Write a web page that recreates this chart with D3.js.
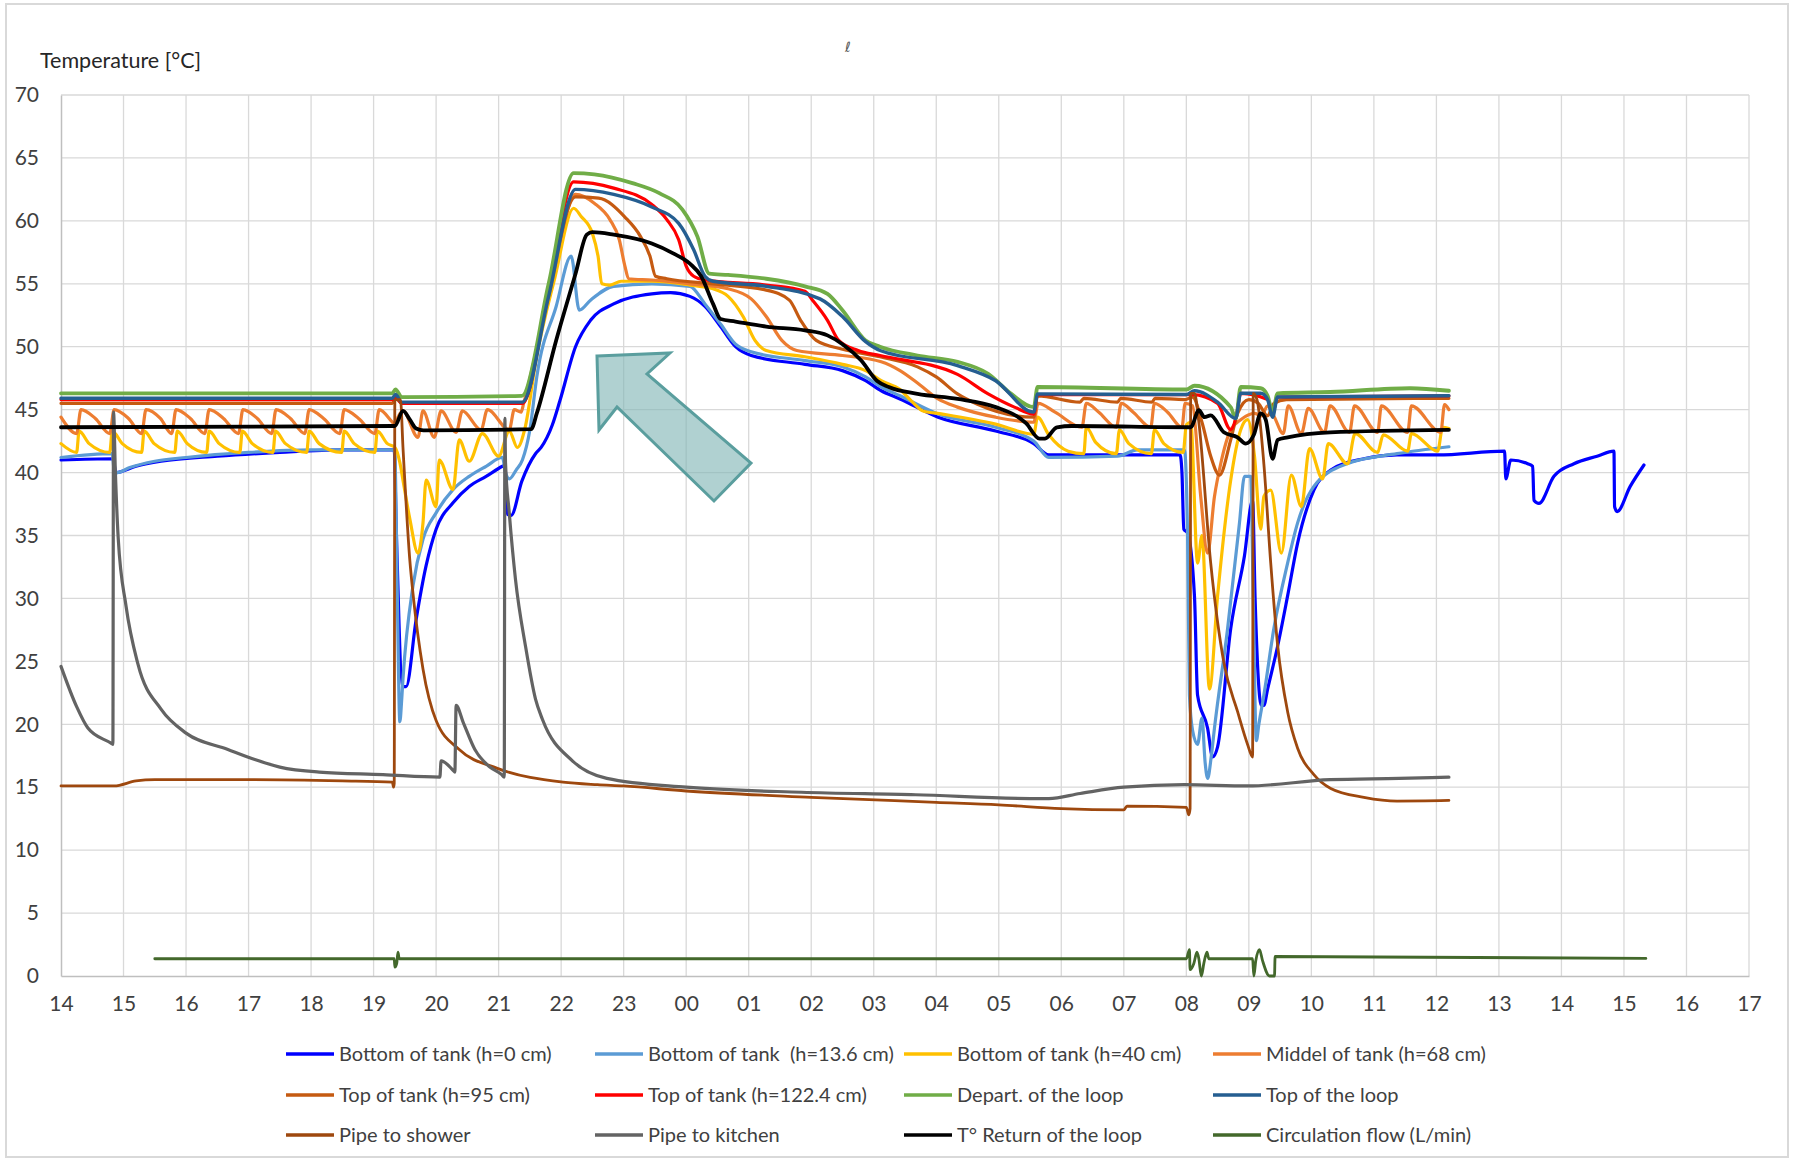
<!DOCTYPE html>
<html><head><meta charset="utf-8">
<script src="https://cdn.jsdelivr.net/npm/d3@7"></script>
<style>
html,body{margin:0;padding:0;background:#fff;}
svg{display:block;font-family:Lato,"Open Sans",sans-serif;}
</style></head>
<body>
<svg id="chart" width="1794" height="1159"></svg>
<script>
// ---------- DATA (t = hours since 14:00 of day 1) ----------
const hourLabels = ["14","15","16","17","18","19","20","21","22","23","00","01","02","03","04","05","06","07","08","09","10","11","12","13","14","15","16","17"];
const yTicks = [0,5,10,15,20,25,30,35,40,45,50,55,60,65,70];
const seriesNames = ["Bottom of tank (h=0 cm)","Bottom of tank  (h=13.6 cm)","Bottom of tank (h=40 cm)","Middel of tank (h=68 cm)","Top of tank (h=95 cm)","Top of tank (h=122.4 cm)","Depart. of the loop","Top of the loop","Pipe to shower","Pipe to kitchen","T° Return of the loop","Circulation flow (L/min)"];

const bottom0 = [[0,41.0],[0.83,41.1],[0.88,40.0],[1.2,40.5],[1.6,40.9],[2.5,41.3],[3.5,41.6],[4.5,41.8],[5.33,41.8],[5.36,36],[5.47,23.0],[5.52,23.0],[5.68,28.3],[5.84,32.6],[6.0,35.5],[6.27,37.6],[6.53,38.9],[6.8,39.7],[7.06,40.5],[7.1,40.6],[7.14,36.7],[7.2,36.6],[7.37,39.3],[7.59,41.5],[7.68,42.0],[7.86,43.8],[7.98,45.7],[8.23,50],[8.47,52.1],[8.84,53.4],[9.45,54.2],[9.75,54.3],[10.06,54.0],[10.3,53.2],[10.55,51.6],[10.79,50.0],[11.04,49.3],[11.9,48.6],[12.5,48.1],[12.87,47.3],[13.12,46.5],[13.42,45.85],[14.03,44.4],[14.95,43.3],[15.56,42.3],[15.8,41.4],[16.5,41.4],[17.9,41.4],[17.93,40],[17.96,35.5],[18.02,35.2],[18.13,30.2],[18.18,22.3],[18.34,19.7],[18.42,17.4],[18.5,18.2],[18.71,27.6],[18.93,33.4],[19.06,37.8],[19.1,30],[19.2,21.5],[19.24,21.5],[19.3,22.8],[19.46,26.2],[19.62,30.2],[19.78,34.4],[20.04,38.6],[20.31,40.2],[20.84,41.1],[21.37,41.4],[22.02,41.4],[23.09,41.7],[23.11,39.5],[23.19,41.0],[23.46,40.7],[23.54,40.5],[23.56,37.8],[23.64,37.55],[23.88,39.7],[24.2,40.7],[24.57,41.3],[24.84,41.7],[24.85,37.3],[24.89,36.9],[25.1,38.9],[25.32,40.6]];

const bottom136 = [[0,41.2],[0.82,41.5],[0.85,40.2],[0.9,40.0],[1.1,40.4],[1.5,40.9],[2.0,41.2],[3.0,41.6],[4.0,41.8],[5.3,41.8],[5.34,41.6],[5.38,30],[5.42,20.2],[5.45,22],[5.47,23.6],[5.63,31],[5.79,34.7],[6.0,36.8],[6.27,38.65],[6.53,39.7],[6.8,40.5],[7.06,41.2],[7.11,40.0],[7.17,39.5],[7.28,40.2],[7.38,41.0],[7.5,43.4],[7.61,47.6],[7.92,53.2],[8.16,57.2],[8.29,52.9],[8.47,53.7],[8.84,54.8],[9.45,55.0],[10.06,54.8],[10.3,53.4],[10.55,51.8],[10.79,50.2],[11.04,49.6],[11.9,48.9],[12.5,48.4],[12.87,47.6],[13.12,46.8],[13.42,46.1],[14.03,44.65],[14.95,43.6],[15.56,42.5],[15.8,41.2],[16.9,41.3],[17.22,41.8],[17.97,41.8],[18.02,35],[18.05,22.3],[18.1,19.5],[18.18,18.4],[18.25,20.5],[18.3,17],[18.34,15.7],[18.4,17.5],[18.45,19.7],[18.66,27.6],[18.85,36],[18.93,39.7],[19.03,39.7],[19.07,30],[19.12,18.7],[19.16,20],[19.24,22.3],[19.4,27.6],[19.62,32.8],[19.78,36.0],[20.04,38.9],[20.57,40.7],[21.37,41.5],[22.2,42.05]];

const bottom40 = [[0,42.3],[0.25,41.6],[0.29,43.3],[0.45,42.3],[0.78,41.6],[0.82,43.3],[0.98,42.3],[1.29,41.6],[1.33,43.3],[1.49,42.3],[1.82,41.6],[1.86,43.3],[2.02,42.3],[2.33,41.6],[2.37,43.3],[2.53,42.3],[2.86,41.6],[2.9,43.3],[3.06,42.3],[3.39,41.6],[3.43,43.3],[3.59,42.3],[3.93,41.6],[3.97,43.3],[4.13,42.3],[4.49,41.6],[4.53,43.3],[4.69,42.3],[5.02,41.6],[5.06,43.3],[5.22,42.3],[5.34,42.0],[5.42,40.8],[5.47,39.4],[5.58,36.3],[5.71,33.6],[5.79,36],[5.84,39.4],[6.0,37.3],[6.05,41.0],[6.27,38.65],[6.37,42.6],[6.53,40.9],[6.74,43.1],[7.0,41.3],[7.17,43.3],[7.3,42.0],[7.42,43.5],[7.6,49.0],[7.9,55.5],[8.2,61.0],[8.32,60.35],[8.5,59.0],[8.59,57.2],[8.65,55.0],[8.78,54.9],[8.96,55.2],[9.45,55.2],[10.06,54.9],[10.43,54.6],[10.67,54.0],[10.91,52.4],[11.1,50.5],[11.28,49.7],[11.9,49.2],[12.5,48.6],[12.87,48.1],[13.12,47.3],[13.42,46.6],[13.6,45.7],[13.79,44.9],[14.1,44.65],[14.95,43.85],[15.56,43.05],[15.62,44.4],[15.8,43.0],[16.11,41.7],[16.36,41.5],[16.4,43.6],[16.55,42.4],[16.88,41.5],[16.93,43.4],[17.08,42.3],[17.44,41.5],[17.49,43.4],[17.64,42.3],[17.95,41.6],[18.0,43.8],[18.07,44.0],[18.18,32.8],[18.25,35],[18.37,22.8],[18.5,30.2],[18.71,39.4],[18.87,43.4],[18.98,44.2],[19.09,41.3],[19.19,35.5],[19.24,38.1],[19.35,38.6],[19.52,33.6],[19.68,39.8],[19.84,37.3],[19.97,41.9],[20.18,39.5],[20.27,42.3],[20.58,40.7],[20.7,43.1],[21.06,41.6],[21.15,43.0],[21.54,41.7],[21.6,43.1],[22.02,41.7],[22.1,43.6],[22.2,43.5]];

const middle68 = [[0,44.4],[0.25,43.1],[0.32,45.0],[0.55,44.3],[0.78,43.1],[0.85,45.0],[1.08,44.3],[1.29,43.1],[1.36,45.0],[1.59,44.3],[1.77,43.1],[1.84,45.0],[2.07,44.3],[2.3,43.1],[2.37,45.0],[2.6,44.3],[2.84,43.1],[2.91,45.0],[3.14,44.3],[3.37,43.1],[3.44,45.0],[3.67,44.3],[3.9,43.1],[3.97,45.0],[4.2,44.3],[4.46,43.1],[4.53,45.0],[4.76,44.3],[5.02,43.1],[5.09,45.0],[5.3,44.0],[5.34,43.8],[5.4,44.5],[5.47,44.9],[5.71,42.8],[5.79,44.9],[5.97,42.8],[6.08,44.9],[6.32,43.2],[6.42,44.9],[6.72,43.4],[6.82,45.0],[7.17,43.4],[7.25,45.0],[7.36,44.8],[7.4,45.5],[7.8,54],[8.23,62.1],[8.53,61.4],[8.78,60.1],[8.93,58.5],[9.02,56.4],[9.08,55.4],[9.45,55.3],[10.06,55.0],[10.67,54.6],[11.04,53.8],[11.28,52.4],[11.53,50.5],[11.77,49.7],[12.5,49.3],[13.12,48.8],[13.42,48.1],[13.73,47.0],[14.03,45.85],[14.34,45.2],[14.95,44.4],[15.56,44.0],[15.63,45.5],[15.9,44.8],[16.33,43.6],[16.4,45.5],[16.6,44.8],[16.88,43.6],[16.96,45.5],[17.15,44.8],[17.43,43.6],[17.49,45.5],[17.7,44.8],[17.93,43.6],[17.98,45.5],[18.1,45.3],[18.23,38.1],[18.34,33.6],[18.45,38.1],[18.55,40.7],[18.71,43.4],[18.87,44.2],[19.09,44.7],[19.2,44.5],[19.3,45.3],[19.4,44.5],[19.55,43.1],[19.63,45.3],[19.84,43.1],[19.95,45.1],[20.21,43.2],[20.3,45.3],[20.61,43.2],[20.69,45.3],[21.06,43.2],[21.12,45.3],[21.54,43.2],[21.6,45.3],[22.07,43.2],[22.13,45.4],[22.2,45.0]];

const top95 = [[0,45.5],[5.3,45.5],[5.35,45.9],[5.45,45.5],[7.38,45.5],[7.8,54.5],[8.23,61.9],[8.6,61.8],[9.02,60.3],[9.27,58.75],[9.42,57.2],[9.51,55.6],[9.69,55.4],[10.43,55.0],[11.28,54.5],[11.65,53.7],[11.83,52.1],[12.08,50.5],[12.5,49.8],[13.1,49.2],[13.7,48.4],[14.0,47.6],[14.34,46.25],[14.65,45.45],[15.56,44.4],[15.62,46.1],[16.3,45.6],[16.36,45.9],[16.9,45.6],[16.95,45.9],[17.45,45.6],[17.5,45.9],[17.98,45.8],[18.1,46.0],[18.25,44],[18.39,41.3],[18.53,39.8],[18.71,42.6],[18.82,44.7],[19.0,45.8],[19.15,45.5],[19.3,44.5],[19.4,45.5],[19.6,45.8],[22.2,45.9]];

const top122 = [[0,45.8],[5.3,45.8],[5.36,46.0],[5.45,45.5],[7.38,45.5],[7.8,54.5],[8.2,63.1],[8.84,62.6],[9.45,61.3],[9.69,60.1],[9.88,58.5],[10.0,56.4],[10.12,55.6],[10.3,55.3],[11.28,54.9],[11.9,54.4],[12.02,53.7],[12.26,52.1],[12.44,50.5],[12.75,49.7],[13.1,49.3],[14.34,47.8],[14.83,46.25],[15.25,45.2],[15.56,44.65],[15.62,46.2],[18.1,46.2],[18.5,45.5],[18.71,43.4],[18.8,44.5],[18.87,46.3],[19.3,45.8],[19.38,44.7],[19.46,46.0],[22.2,46.1]];

const departLoop = [[0,46.3],[5.3,46.3],[5.35,46.6],[5.45,46.0],[7.37,46.1],[7.8,55],[8.2,63.8],[8.53,63.7],[9.14,63.0],[9.57,62.2],[9.94,60.9],[10.18,58.75],[10.37,55.8],[10.67,55.7],[11.28,55.4],[11.9,54.8],[12.26,54.2],[12.5,52.9],[12.87,50.5],[13.1,50.0],[13.7,49.3],[14.34,48.8],[14.83,47.85],[15.2,46.25],[15.56,45.2],[15.62,46.8],[18.0,46.6],[18.13,46.9],[18.71,45.2],[18.79,44.3],[18.87,46.8],[19.19,46.7],[19.3,46.1],[19.38,44.8],[19.46,46.3],[20.3,46.4],[21.58,46.7],[22.2,46.5]];

const topLoop = [[0,45.9],[5.3,45.9],[5.35,46.2],[5.45,45.6],[7.38,45.6],[7.8,54],[8.23,62.5],[8.84,62.1],[9.45,61.1],[9.88,59.8],[10.12,57.7],[10.3,55.6],[10.43,55.2],[11.28,54.8],[12.14,53.8],[12.5,52.4],[12.87,50.4],[13.1,49.7],[14.34,48.5],[14.95,47.3],[15.56,44.8],[15.62,46.25],[18.0,46.2],[18.13,46.5],[18.5,45.6],[18.79,44.3],[18.87,46.3],[19.19,46.3],[19.3,45.8],[19.38,44.4],[19.46,46.0],[22.2,46.1]];

const pipeShower = [[0,15.1],[0.85,15.1],[1.2,15.5],[1.5,15.6],[3,15.6],[4.5,15.5],[5.3,15.4],[5.32,15.0],[5.33,15.3],[5.34,45.8],[5.43,45.8],[5.47,42],[5.58,33],[5.63,30.4],[5.79,24.4],[6.0,20.3],[6.37,18],[6.98,16.5],[8.03,15.4],[8.58,15.2],[9,15.1],[10,14.7],[12,14.2],[14,13.8],[15,13.6],[16,13.3],[17,13.2],[17.05,13.5],[18.0,13.4],[18.04,12.8],[18.06,13.3],[18.07,46.3],[18.13,46.3],[18.2,44],[18.39,32.8],[18.6,24.9],[18.82,21],[18.98,18.4],[19.06,17.4],[19.07,46.3],[19.13,45.8],[19.24,40.7],[19.35,32.8],[19.46,26.3],[19.62,21],[19.78,18.1],[20.04,16.0],[20.31,14.9],[20.84,14.2],[21.37,13.9],[22.2,13.95]];

const pipeKitchen = [[0,24.6],[0.25,21.4],[0.43,19.7],[0.8,18.5],[0.83,18.4],[0.84,44.8],[0.87,40],[0.915,34.8],[1.04,29.4],[1.23,24.8],[1.6,21.2],[2.0,19.3],[2.67,18.0],[3.1,17.2],[3.5,16.6],[4.13,16.2],[5.15,16.0],[6.06,15.8],[6.08,17.1],[6.28,16.3],[6.3,16.2],[6.32,21.5],[6.43,20.2],[6.62,18.0],[6.86,16.6],[7.05,16.0],[7.09,15.8],[7.1,44.3],[7.11,40.8],[7.17,36.8],[7.27,31.5],[7.43,26.2],[7.59,22],[7.7,20.4],[8.18,17.1],[8.73,15.7],[10,15.0],[11.84,14.6],[13.67,14.4],[15.5,14.1],[15.8,14.1],[16.3,14.5],[17,15.0],[17.97,15.2],[18.98,15.1],[20.3,15.6],[21.4,15.7],[22.2,15.8]];

const returnLoop = [[0,43.6],[5.34,43.7],[5.47,44.9],[5.58,44.2],[5.68,43.5],[5.8,43.35],[7.52,43.45],[7.61,44.7],[7.92,50.5],[8.23,55.8],[8.41,58.9],[8.5,59.1],[8.84,58.9],[9.45,58.2],[9.8,57.4],[10.06,56.6],[10.24,55.6],[10.43,53.4],[10.55,52.2],[10.79,52.0],[11.28,51.6],[11.9,51.3],[12.26,50.9],[12.5,50.2],[12.8,48.9],[13.05,47.3],[13.24,46.8],[13.7,46.25],[14.34,45.85],[14.95,45.2],[15.44,43.9],[15.65,42.7],[15.74,42.7],[15.93,43.6],[16.17,43.7],[18.07,43.6],[18.2,44.95],[18.29,44.4],[18.39,44.55],[18.6,43.2],[18.82,42.8],[18.95,42.3],[19.08,43],[19.19,44.7],[19.27,44.2],[19.38,41.1],[19.46,42.6],[19.62,42.8],[20.3,43.2],[22.2,43.4]];

const circulationFlow = [[1.5,1.37],[5.33,1.37],[5.34,0.7],[5.37,1.0],[5.39,1.9],[5.41,1.37],[18.0,1.37],[18.05,2.1],[18.06,0.5],[18.12,1.0],[18.17,1.9],[18.2,1.37],[18.24,0.0],[18.28,1.0],[18.33,1.9],[18.36,1.37],[19.06,1.37],[19.08,0.0],[19.11,1.2],[19.17,2.1],[19.22,1.2],[19.33,0.0],[19.41,0.0],[19.42,1.55],[25.35,1.4]];

// ---------- STYLE ----------
const seriesData = [bottom0,bottom136,bottom40,middle68,top95,top122,departLoop,topLoop,pipeShower,pipeKitchen,returnLoop,circulationFlow];
const seriesColors = ["#0000ff","#5b9bd5","#ffc000","#ed7d31","#c55a11","#ff0000","#70ad47","#255e91","#9e480e","#636363","#000000","#43682b"];
const seriesWidths = [3.2,3.2,3.2,3.2,3.2,3.2,3.8,3.4,2.8,3.2,3.8,2.8];

const svg = d3.select("#chart");
const W = 1794, H = 1159;
const M = {left:61, right:1749, top:95, bottom:976};

svg.append("rect").attr("x",6).attr("y",4).attr("width",W-12).attr("height",H-6)
  .attr("fill","#fff").attr("stroke","#d9d9d9").attr("stroke-width",2);

const x = d3.scaleLinear().domain([0,27]).range([M.left,M.right]);
const y = d3.scaleLinear().domain([0,70]).range([M.bottom,M.top]);

// grid
const g = svg.append("g");
g.selectAll("line.vg").data(d3.range(1,28)).join("line")
  .attr("x1",d=>x(d)).attr("x2",d=>x(d)).attr("y1",y(70)).attr("y2",y(0))
  .attr("stroke","#d9d9d9").attr("stroke-width",1.3);
g.selectAll("line.hg").data(yTicks.filter(v=>v>0)).join("line")
  .attr("x1",x(0)).attr("x2",x(27)).attr("y1",d=>y(d)).attr("y2",d=>y(d))
  .attr("stroke","#d9d9d9").attr("stroke-width",1.3);

// axes
const xAxis = d3.axisBottom(x).tickValues(d3.range(0,28)).tickFormat(i=>hourLabels[i]).tickSize(0).tickPadding(20);
const gx = svg.append("g").attr("transform",`translate(0,${y(0)})`).call(xAxis);
gx.select(".domain").attr("stroke","#bfbfbf").attr("stroke-width",1.5);
gx.selectAll("text").attr("font-size",21).attr("fill","#404040").attr("font-family","Lato");

const yAxis = d3.axisLeft(y).tickValues(yTicks).tickSize(0).tickPadding(22);
const gy = svg.append("g").attr("transform",`translate(${x(0)},0)`).call(yAxis);
gy.select(".domain").attr("stroke","#bfbfbf").attr("stroke-width",1.5);
gy.selectAll("text").attr("font-size",21).attr("fill","#404040").attr("font-family","Lato");

svg.append("text").attr("x",40).attr("y",68).attr("font-size",21.5).attr("fill","#262626")
  .attr("font-family","Lato").text("Temperature [°C]");
svg.append("text").attr("x",845).attr("y",52).attr("font-size",14).attr("fill","#595959")
  .attr("font-family","DejaVu Sans").attr("font-style","italic").text("ℓ");

// lines
const line = d3.line().x(d=>x(d[0])).y(d=>y(d[1])).curve(d3.curveMonotoneX);
const lg = svg.append("g").attr("stroke-linejoin","round").attr("stroke-linecap","round").attr("fill","none");
seriesData.forEach((s,i)=>{
  lg.append("path").datum(s).attr("d",line).attr("stroke",seriesColors[i]).attr("stroke-width",seriesWidths[i]);
});

// annotation arrow
svg.append("polygon")
  .attr("points","597,356 670,353 647,374 751,463 714,501 617,407 599,430")
  .attr("fill","rgba(128,180,180,0.62)").attr("stroke","#5a9e9e").attr("stroke-width",3)
  .attr("stroke-linejoin","miter");

// legend
const colX = [286,595,904,1213];
const rowY = [1054,1095,1135];
const leg = svg.append("g");
seriesNames.forEach((n,i)=>{
  const cx = colX[i%4], cy = rowY[Math.floor(i/4)];
  leg.append("line").attr("x1",cx).attr("x2",cx+48).attr("y1",cy).attr("y2",cy)
    .attr("stroke",seriesColors[i]).attr("stroke-width",3.5);
  leg.append("text").attr("x",cx+53).attr("y",cy).attr("dy","0.35em")
    .attr("font-size",20).attr("fill","#404040").attr("font-family","Lato")
    .style("white-space","pre").text(n);
});
</script>
</body></html>
